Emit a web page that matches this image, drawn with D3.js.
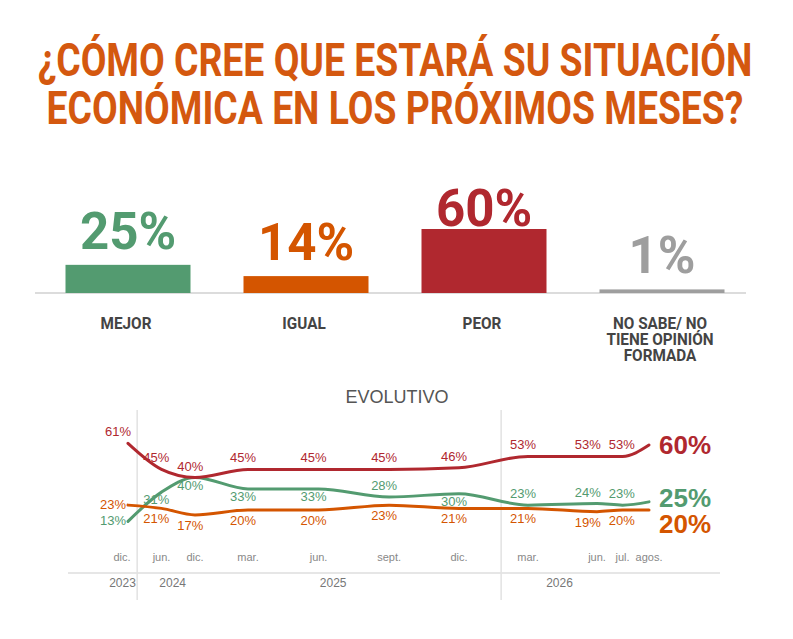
<!DOCTYPE html>
<html>
<head>
<meta charset="utf-8">
<script src="https://cdn.jsdelivr.net/npm/d3@7"></script>
<style>
html, body { margin: 0; padding: 0; background: #fff; }
svg { display: block; }
</style>
</head>
<body>
<div id="chart"></div>
<script>
// title
const titleLines = ["¿CÓMO CREE QUE ESTARÁ SU SITUACIÓN", "ECONÓMICA EN LOS PRÓXIMOS MESES?"];

// current survey
const categories = ["MEJOR", "IGUAL", "PEOR", "NO SABE/ NO TIENE OPINIÓN FORMADA"];
const categoryLines = [["MEJOR"], ["IGUAL"], ["PEOR"], ["NO SABE/ NO", "TIENE OPINIÓN", "FORMADA"]];
const shares = [25, 14, 60, 1];

// evolution
const periods = ["dic.", "jun.", "dic.", "mar.", "jun.", "sept.", "dic.", "mar.", "jun.", "jul.", "agos."];
const periodDates = ["2023-12-01", "2024-06-01", "2024-12-01", "2025-03-01", "2025-06-01", "2025-09-01",
                     "2025-12-01", "2026-03-01", "2026-06-01", "2026-07-01", "2026-08-01"];
const peor  = [61, 45, 40, 45, 45, 45, 46, 53, 53, 53, 60];
const mejor = [13, 31, 40, 33, 33, 28, 30, 23, 24, 23, 25];
const igual = [23, 21, 17, 20, 20, 23, 21, 21, 19, 20, 20];
const years = ["2023", "2024", "2025", "2026"];
const yearLabelDates = ["2023-11-01", "2024-08-01", "2025-06-20", "2026-04-12"];
const yearBreaks = ["2024-01-20", "2026-01-25"];

const GREEN = "#539b70", ORANGE = "#d45500", RED = "#b0282f", GREY = "#9e9e9e";
const shareColors = [GREEN, ORANGE, RED, GREY];

const width = 793, height = 639;
const svg = d3.select("#chart").append("svg")
    .attr("width", width)
    .attr("height", height);

// ---- title (condensed by horizontal scaling to the original width)
const titleWidths = [715, 697];
svg.append("g").selectAll("g")
    .data(titleLines)
    .join("g")
    .attr("transform", (d, i) => `translate(395,${76 + i * 48})`)
    .append("text")
    .attr("text-anchor", "middle")
    .style("font-family", "Roboto, sans-serif")
    .style("font-weight", 700)
    .style("font-size", "46px")
    .style("fill", "#d4580f")
    .text(d => d)
    .each(function (d, i) {
        const w = this.getComputedTextLength();
        d3.select(this).attr("transform", `scale(${titleWidths[i] / w},1)`);
    });

// ---- bars
const base = 293;
const xb = d3.scalePoint().domain(categories).range([128, 662]);
const hb = d3.scaleLinear().domain([-2.5, 60]).range([0, 64]);
const barW = 125;

svg.append("line")
    .attr("x1", 35).attr("x2", 746)
    .attr("y1", base).attr("y2", base)
    .attr("stroke", "#dcdcdc").attr("stroke-width", 2);

const bars = svg.append("g").selectAll("g")
    .data(categories)
    .join("g");

bars.append("rect")
    .attr("x", d => xb(d) - barW / 2)
    .attr("width", barW)
    .attr("y", (d, i) => base - hb(shares[i]))
    .attr("height", (d, i) => hb(shares[i]))
    .attr("fill", (d, i) => shareColors[i]);

bars.append("text")
    .attr("x", d => xb(d))
    .attr("y", (d, i) => Math.max(base - hb(shares[i]) - 16, 226))
    .attr("text-anchor", "middle")
    .style("font-family", "Roboto, sans-serif")
    .style("font-weight", 700)
    .style("font-size", "51px")
    .style("fill", (d, i) => shareColors[i])
    .text((d, i) => shares[i] + "%");

const catText = bars.append("g")
    .attr("transform", d => `translate(${xb(d) - 2},329) scale(0.9,1)`)
    .append("text")
    .attr("text-anchor", "middle")
    .style("font-family", "Roboto, sans-serif")
    .style("font-weight", 700)
    .style("font-size", "17px")
    .style("fill", "#444");

catText.selectAll("tspan")
    .data((d, i) => categoryLines[i])
    .join("tspan")
    .attr("x", 0)
    .attr("dy", (d, i) => i === 0 ? 0 : 16)
    .text(d => d);

// ---- evolution chart
svg.append("text")
    .attr("x", 397).attr("y", 403)
    .attr("text-anchor", "middle")
    .style("font-family", "'Liberation Sans', Arial, sans-serif")
    .style("font-size", "18px")
    .style("fill", "#555")
    .text("EVOLUTIVO");

const parse = d3.utcParse("%Y-%m-%d");
const dates = periodDates.map(parse);

// survey waves are not evenly spaced on the original axis
const x = d3.scaleUtc()
    .domain([dates[0], dates[2], dates[3], dates[7], dates[8], dates[10]])
    .range([128, 195, 248, 528, 597, 649]);
const y = d3.scaleLinear().domain([20, 60]).range([510, 445]);

// axis furniture
svg.append("line")
    .attr("x1", 68).attr("x2", 720)
    .attr("y1", 573).attr("y2", 573)
    .attr("stroke", "#e6e6e6").attr("stroke-width", 2);

svg.append("g").selectAll("line")
    .data(yearBreaks.map(parse))
    .join("line")
    .attr("x1", d => x(d)).attr("x2", d => x(d))
    .attr("y1", 410).attr("y2", 600)
    .attr("stroke", "#e2e2e2").attr("stroke-width", 1.5);

svg.append("g").selectAll("text")
    .data(periods)
    .join("text")
    .attr("x", (d, i) => x(dates[i]) - (i === 0 ? 6 : 0))
    .attr("y", 561)
    .attr("text-anchor", "middle")
    .style("font-family", "'Liberation Sans', Arial, sans-serif")
    .style("font-size", "11px")
    .style("fill", "#888")
    .text(d => d);

svg.append("g").selectAll("text")
    .data(years)
    .join("text")
    .attr("x", (d, i) => x(parse(yearLabelDates[i])))
    .attr("y", 587)
    .attr("text-anchor", "middle")
    .style("font-family", "'Liberation Sans', Arial, sans-serif")
    .style("font-size", "12px")
    .style("fill", "#777")
    .text(d => d);

const series = [
    { name: "MEJOR", values: mejor, color: GREEN },
    { name: "IGUAL", values: igual, color: ORANGE },
    { name: "PEOR", values: peor, color: RED }
];

const line = d3.line()
    .x((d, i) => x(dates[i]))
    .y(d => y(d))
    .curve(d3.curveMonotoneX);

svg.append("g").selectAll("path")
    .data(series)
    .join("path")
    .attr("d", s => line(s.values))
    .attr("fill", "none")
    .attr("stroke", s => s.color)
    .attr("stroke-width", 3)
    .attr("stroke-linecap", "round");

// small value labels
function labelPos(s, i) {
    const v = s.values[i], px = x(dates[i]), py = y(v);
    if (i === 0) {
        if (s.name === "PEOR") return { x: px + 3, y: py - 7, a: "end" };
        return { x: px - 2, y: py + 4, a: "end" };
    }
    if (s.name === "PEOR") return { x: px - 5, y: py - 7, a: "middle" };
    if (s.name === "IGUAL") return { x: px - 5, y: py + 15, a: "middle" };
    // MEJOR: below the line unless it runs close to IGUAL
    return mejor[i] - igual[i] >= 8 ? { x: px - 5, y: py + 12, a: "middle" } : { x: px - 5, y: py - 7, a: "middle" };
}

const last = periods.length - 1;
series.forEach(s => {
    const pos = s.values.slice(0, last).map((v, i) => labelPos(s, i));
    // spread neighbours that sit too close horizontally
    for (let i = 2; i < pos.length; i++) {
        const gap = pos[i].x - pos[i - 1].x;
        if (gap < 34) {
            const mid = (pos[i].x + pos[i - 1].x) / 2;
            pos[i - 1].x = mid - 17;
            pos[i].x = mid + 17;
        }
    }
    svg.append("g").selectAll("text")
        .data(s.values.slice(0, last))
        .join("text")
        .attr("x", (d, i) => pos[i].x)
        .attr("y", (d, i) => pos[i].y)
        .attr("text-anchor", (d, i) => pos[i].a)
        .style("font-family", "'Liberation Sans', Arial, sans-serif")
        .style("font-size", "13px")
        .style("fill", s.color)
        .text(d => d + "%");
});

// big end labels, pushed apart so they don't collide
const ends = series.map(s => ({ s, v: s.values[last], cy: y(s.values[last]) }))
    .sort((a, b) => a.cy - b.cy);
for (let k = 1; k < ends.length; k++) {
    if (ends[k].cy - ends[k - 1].cy < 26) ends[k].cy = ends[k - 1].cy + 26;
}
ends[1].cy -= 4;
ends[2].cy -= 4;
svg.append("g").selectAll("text")
    .data(ends)
    .join("text")
    .attr("x", x(dates[last]) + 10)
    .attr("y", d => d.cy + 9)
    .style("font-family", "'Liberation Sans', Arial, sans-serif")
    .style("font-weight", 700)
    .style("font-size", "26px")
    .style("fill", d => d.s.color)
    .text(d => d.v + "%");
</script>
</body>
</html>
